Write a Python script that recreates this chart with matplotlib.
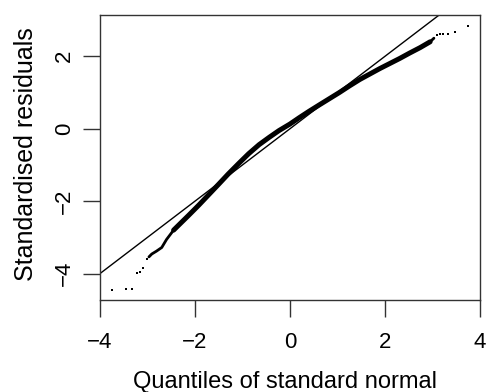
import matplotlib
matplotlib.use('Agg')
from matplotlib import pyplot as plt

plt.rcParams['font.family'] = ['Liberation Sans', 'DejaVu Sans']

# Normal QQ plot of standardised residuals
# dense central band
band_x = [-2.45, -2.28, -2.14, -1.92, -1.71, -1.50, -1.30, -1.08, -0.87, -0.65,
          -0.44, -0.23, 0.00, 0.19, 0.40, 0.62, 0.83, 1.04, 1.25, 1.47,
          1.68, 1.89, 2.10, 2.31, 2.52, 2.74, 2.95]
band_y = [-2.80, -2.58, -2.40, -2.11, -1.82, -1.53, -1.25, -0.96, -0.69, -0.44,
          -0.24, -0.05, 0.13, 0.30, 0.48, 0.66, 0.83, 1.00, 1.18, 1.36,
          1.51, 1.66, 1.80, 1.94, 2.09, 2.24, 2.40]

# thinner ends of the band
low_x = [-2.97, -2.91, -2.81, -2.70, -2.60, -2.45]
low_y = [-3.54, -3.46, -3.38, -3.28, -3.06, -2.80]
high_x = [2.95, 3.03]
high_y = [2.40, 2.50]

# isolated points in the tails
tail_x = [-3.74, -3.46, -3.32, -3.22, -3.16, -3.09, -3.00,
          3.09, 3.16, 3.23, 3.32, 3.48, 3.75]
tail_y = [-4.46, -4.44, -4.44, -3.98, -3.95, -3.86, -3.61,
          2.59, 2.61, 2.61, 2.61, 2.66, 2.84]

# reference line
line_a = 0.0
line_b = 1.0

xticks = [-4, -2, 0, 2, 4]
yticks = [-4, -2, 0, 2]

fig = plt.figure(figsize=(4.89, 3.92), dpi=100)
ax = fig.add_axes([100/489, 1 - 300/392, 380/489, 285/392])

ax.plot(band_x, band_y, color='black', lw=3.6, solid_capstyle='round')
ax.plot(low_x, low_y, color='black', lw=2.0, solid_capstyle='round')
ax.plot(high_x, high_y, color='black', lw=2.0, solid_capstyle='round')
ax.plot(tail_x, tail_y, linestyle='none', marker='s', markersize=1.8,
        color='black', markeredgewidth=0)
ax.axline((0, line_a), slope=line_b, color='black', lw=1.0)

ax.set_xlim(-4, 4)
ax.set_ylim(-4.73, 3.14)

ax.set_xticks(xticks)
ax.set_xticklabels([str(t).replace('-', '\u2212') for t in xticks])
ax.set_yticks(yticks)
ax.set_yticklabels([str(t).replace('-', '\u2212') for t in yticks],
                   rotation=90, va='center')
ax.tick_params(direction='out', length=12, width=1.0, labelsize=16,
               color='#333333')
ax.tick_params(axis='x', pad=11)
ax.tick_params(axis='y', pad=6)

for s in ax.spines.values():
    s.set_linewidth(1.0)
    s.set_color('#333333')
    s.set_clip_on(False)

fig.text(33/489, 1 - 154/392, 'Standardised residuals', rotation=90,
         rotation_mode='anchor', ha='center', va='baseline', fontsize=18)
fig.text(285/489, 1 - 388/392, 'Quantiles of standard normal',
         ha='center', va='baseline', fontsize=17)

plt.savefig('out.png', dpi=100)
